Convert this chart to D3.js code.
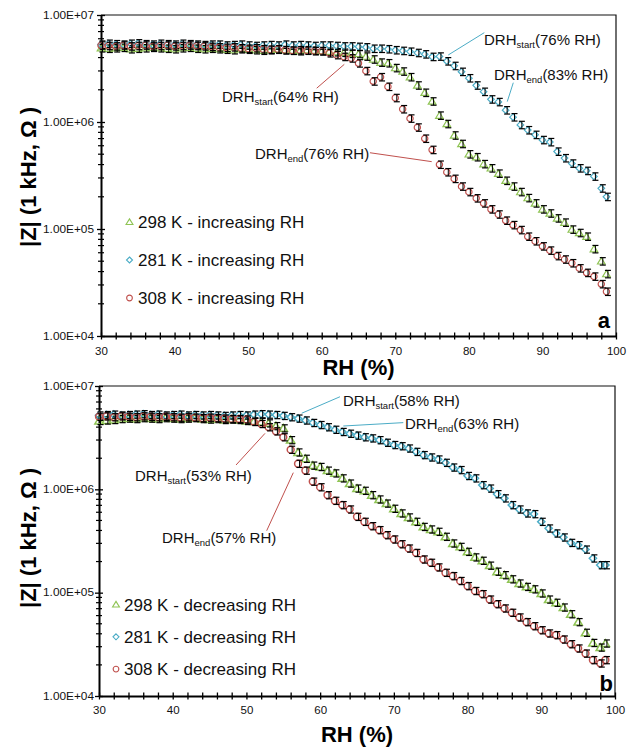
<!DOCTYPE html>
<html><head><meta charset="utf-8">
<script src="https://cdn.jsdelivr.net/npm/d3@7"></script>
<style>body{margin:0;background:#fff} svg{display:block}</style>
</head><body><svg id="c" width="633" height="747"></svg>
<script>
// ---------- DATA ----------
const rh = [30,31,32,33,34,35,36,37,38,39,40,41,42,43,44,45,46,47,48,49,50,51,52,53,54,55,56,57,58,59,60,
  61,62,63,64,65,66,67,68,69,70,71,72,73,74,75,76,77,78,79,80,81,82,83,84,85,86,87,88,89,90,
  91,92,93,94,95,96,97,98,98.7];

// |Z| in MΩ, increasing RH (panel a)
const inc298 = [4.9,4.85,4.9,4.95,4.8,4.85,4.9,4.95,4.9,4.85,4.8,4.9,4.95,4.85,4.8,4.85,
  4.8,4.75,4.7,4.8,4.75,4.7,4.65,4.7,4.75,4.7,4.65,4.6,4.7,4.65,4.6,
  4.55,4.5,4.45,4.35,4.33,4.1,3.85,3.6,3.55,3.2,
  2.97,2.63,2.2,1.88,1.56,1.15,0.96,0.75,0.625,0.50,
  0.47,0.405,0.37,0.33,0.283,0.25,0.222,0.195,0.174,0.153,
  0.140,0.126,0.115,0.099,0.092,0.085,0.065,0.050,0.038];
const inc281 = [5.3,5.4,5.35,5.3,5.4,5.45,5.35,5.3,5.4,5.35,5.3,5.4,5.35,5.3,5.25,5.3,
  5.3,5.2,5.25,5.3,5.2,5.15,5.2,5.25,5.2,5.3,5.2,5.25,5.2,5.15,5.2,
  5.2,5.15,5.1,5.1,5.05,5.0,4.85,4.85,4.8,4.7,
  4.63,4.55,4.43,4.3,4.07,4.1,3.7,3.35,2.95,2.57,
  2.2,1.92,1.63,1.54,1.29,1.11,0.94,0.84,0.76,0.68,
  0.65,0.53,0.46,0.41,0.37,0.35,0.31,0.24,0.20];
const inc308 = [5.2,5.15,5.1,5.2,5.1,5.15,5.2,5.1,5.15,5.2,5.1,5.15,5.2,5.15,5.1,5.05,
  5.0,4.95,5.0,4.9,4.85,4.9,4.8,4.75,4.8,4.7,4.65,4.7,4.65,4.6,4.6,
  4.4,4.23,4.07,3.94,3.54,3.0,2.4,2.63,2.14,1.68,
  1.32,1.08,0.89,0.70,0.55,0.40,0.34,0.295,0.25,0.222,
  0.194,0.174,0.153,0.137,0.120,0.109,0.098,0.085,0.077,0.069,
  0.063,0.056,0.052,0.048,0.043,0.039,0.036,0.0306,0.026];

// |Z| in MΩ, decreasing RH (panel b)
const dec298 = [4.6,4.65,4.7,4.8,4.85,4.8,4.9,4.85,4.8,4.9,4.85,4.8,4.85,4.9,4.8,4.75,
  4.8,4.7,4.75,4.7,4.6,4.55,4.5,
  4.36,4.1,3.9,3.0,2.28,1.98,1.70,1.65,
  1.52,1.43,1.28,1.14,1.02,0.97,0.88,0.80,0.73,0.65,
  0.586,0.536,0.486,0.434,0.41,0.389,0.348,0.30,0.278,0.249,
  0.220,0.204,0.183,0.160,0.148,0.135,0.123,0.114,0.108,0.0985,
  0.086,0.080,0.072,0.062,0.052,0.041,0.0327,0.0295,0.0323];
const dec281 = [5.2,5.25,5.3,5.2,5.25,5.3,5.35,5.25,5.3,5.2,5.25,5.3,5.2,5.25,5.2,5.25,
  5.2,5.15,5.2,5.25,5.2,5.3,5.35,5.3,
  5.25,5.15,5.0,4.85,4.65,4.4,4.2,
  4.0,3.78,3.6,3.46,3.32,3.2,3.12,3.0,2.83,2.69,
  2.62,2.49,2.31,2.15,2.04,1.95,1.81,1.63,1.54,1.35,
  1.28,1.10,1.02,0.90,0.82,0.705,0.64,0.586,0.577,0.486,
  0.419,0.375,0.343,0.304,0.289,0.262,0.215,0.185,0.185];
const dec308 = [5.05,5.1,5.0,5.1,5.05,5.0,5.1,5.05,5.0,5.05,5.0,4.95,5.0,4.95,4.9,4.95,
  4.9,4.85,4.8,4.8,4.75,4.5,
  4.3,4.0,3.65,3.2,2.42,1.77,1.52,1.19,1.05,
  0.88,0.776,0.705,0.64,0.543,0.486,0.441,0.404,0.361,0.328,
  0.295,0.268,0.243,0.21,0.195,0.176,0.156,0.145,0.130,0.116,
  0.104,0.097,0.086,0.0776,0.0705,0.064,0.0577,0.052,0.0475,0.0434,
  0.0404,0.0389,0.0353,0.0318,0.0289,0.0258,0.0223,0.0207,0.0223];

const relErr = 0.08; // relative error of each point

const xTickValues = [30,40,50,60,70,80,90,100];
const yTickValues = [1e4,1e5,1e6,1e7];
const yTickLabels = ['1.00E+04','1.00E+05','1.00E+06','1.00E+07'];

const legendA = ['298 K - increasing RH','281 K - increasing RH','308 K - increasing RH'];
const legendB = ['298 K - decreasing RH','281 K - decreasing RH','308 K - decreasing RH'];

// annotations: text anchor (rh, Z) and leader line from (rh1,Z1) to (rh2,Z2)
const annA = [
  {sub:'start', val:'(76% RH)', s:1, tx:82.06, tz:5.25e6, x1:82.10, z1:6.84e6, x2:77.20, z2:4.23e6},
  {sub:'end',   val:'(83% RH)', s:1, tx:83.42, tz:2.47e6, x1:86.04, z1:2.33e6, x2:85.22, z2:1.55e6},
  {sub:'start', val:'(64% RH)', s:2, tx:46.45, tz:1.54e6, x1:59.32, z1:2.07e6, x2:63.07, z2:3.46e6},
  {sub:'end',   val:'(76% RH)', s:2, tx:50.93, tz:4.51e5, x1:66.56, z1:5.16e5, x2:74.95, z2:4.26e5}
];
const annB = [
  {sub:'start', val:'(58% RH)', s:1, tx:63.10, tz:6.40e6, x1:62.69, z1:7.87e6, x2:57.50, z2:5.45e6},
  {sub:'end',   val:'(63% RH)', s:1, tx:71.51, tz:3.84e6, x1:71.28, z1:4.42e6, x2:63.14, z2:4.10e6},
  {sub:'start', val:'(53% RH)', s:2, tx:34.88, tz:1.205e6, x1:48.59, z1:1.72e6, x2:52.52, z2:3.48e6},
  {sub:'end',   val:'(57% RH)', s:2, tx:38.55, tz:3.03e5, x1:52.75, z1:3.98e5, x2:56.36, z2:1.45e6}
];

// ---------- STYLE ----------
const FONT = '"Liberation Sans", Arial, Helvetica, sans-serif';
const COLORS = ['#8fc454', '#4bacc6', '#c0504d']; // 298 K, 281 K, 308 K
const SHAPES = ['tri', 'dia', 'circ'];
const svg = d3.select('#c');

function shapePath(shape, s) {
  if (shape === 'tri') return `M0,${-s*1.05}L${s*1.15},${s*0.85}L${-s*1.15},${s*0.85}Z`;
  if (shape === 'dia') return `M0,${-s}L${s},0L0,${s}L${-s},0Z`;
  return d3.arc()({innerRadius:0, outerRadius:s*0.95, startAngle:0, endAngle:2*Math.PI});
}

function drawPanel(cfg) {
  const x = d3.scaleLinear().domain([30,100]).range([cfg.x0, cfg.x1]);
  const y = d3.scaleLog().domain([1e4,1e7]).range([cfg.y1, cfg.y0]);
  const g = svg.append('g');

  // frame (top/right)
  g.append('path').attr('d', `M${cfg.x0},${cfg.y0}H${cfg.x1}V${cfg.y1}`)
    .attr('fill','none').attr('stroke','#111').attr('stroke-width',1.2);

  // y minor ticks
  const minor = [];
  for (let k = 4; k < 7; k++) for (let m = 2; m <= 9; m++) minor.push(m * Math.pow(10, k));
  g.append('g').selectAll('line').data(minor).join('line')
    .attr('x1', cfg.x0 - 3).attr('x2', cfg.x0 + 3)
    .attr('y1', d => y(d)).attr('y2', d => y(d))
    .attr('stroke','#000').attr('stroke-width',1.2);

  // y axis
  const yAx = g.append('g').attr('transform', `translate(${cfg.x0},0)`)
    .call(d3.axisLeft(y).tickValues(yTickValues).tickFormat((d,i) => yTickLabels[i]).tickSizeOuter(0));
  yAx.select('.domain').attr('stroke-width', 2);
  yAx.selectAll('.tick line').attr('x1', -4).attr('x2', 4).attr('stroke-width', 1.3);
  yAx.selectAll('.tick text').attr('x', -(cfg.x0 - 94)).attr('font-family', FONT)
    .attr('font-size', 10).attr('fill','#111')
    .attr('textLength', 51).attr('lengthAdjust','spacingAndGlyphs');

  // x axis
  const xAll = [];
  for (let v = 30; v <= 100; v += 2) xAll.push(v);
  const xAx = g.append('g').attr('transform', `translate(0,${cfg.y1})`)
    .call(d3.axisBottom(x).tickValues(xAll)
      .tickFormat(d => xTickValues.includes(d) ? String(d) : '').tickSizeOuter(0));
  xAx.select('.domain').attr('stroke-width', 2);
  xAx.selectAll('.tick line').attr('y1', -3.5).attr('y2', 3.5).attr('stroke-width', 1.3);
  xAx.selectAll('.tick text').attr('y', cfg.xLabY - cfg.y1).attr('dy', 0)
    .attr('font-family', FONT).attr('font-size', 11.5).attr('fill','#111');
  xAx.selectAll('.domain').raise();

  // axis titles
  g.append('text').attr('x', (cfg.x0 + cfg.x1) / 2).attr('y', cfg.xTitleY)
    .attr('text-anchor','middle').attr('font-family', FONT).attr('font-weight','bold')
    .attr('font-size', 22).attr('fill','#000').text('RH (%)');
  g.append('text').attr('transform', `translate(36,${cfg.yTitleC}) rotate(-90)`)
    .attr('text-anchor','middle').attr('font-family', FONT).attr('font-weight','bold')
    .attr('font-size', 22).attr('fill','#000').text('|Z| (1 kHz, \u03A9 )');

  // series
  cfg.series.forEach((vals, si) => {
    const pts = rh.map((r, i) => ({r, z: vals[i] * 1e6}));
    const sg = g.append('g');
    sg.selectAll('path.m').data(pts).join('path').attr('class','m')
      .attr('transform', d => `translate(${x(d.r)},${y(d.z)})`)
      .attr('d', shapePath(SHAPES[si], cfg.ms))
      .attr('fill','none').attr('stroke', COLORS[si]).attr('stroke-width', cfg.sw);
    // error bars
    const eb = sg.selectAll('g.eb').data(pts).join('g').attr('class','eb');
    const ex = d => x(d.r) + 1.5;
    eb.append('line').attr('x1', ex).attr('x2', ex)
      .attr('y1', d => y(d.z * (1 + relErr))).attr('y2', d => y(d.z * (1 - relErr)))
      .attr('stroke','#000').attr('stroke-width',1);
    eb.append('line').attr('x1', d => ex(d) - 3).attr('x2', d => ex(d) + 3)
      .attr('y1', d => y(d.z * (1 + relErr))).attr('y2', d => y(d.z * (1 + relErr)))
      .attr('stroke','#000').attr('stroke-width',1.2);
    eb.append('line').attr('x1', d => ex(d) - 3).attr('x2', d => ex(d) + 3)
      .attr('y1', d => y(d.z * (1 - relErr))).attr('y2', d => y(d.z * (1 - relErr)))
      .attr('stroke','#000').attr('stroke-width',1.2);
  });

  // annotations
  cfg.ann.forEach(a => {
    g.append('line').attr('x1', x(a.x1)).attr('y1', y(a.z1)).attr('x2', x(a.x2)).attr('y2', y(a.z2))
      .attr('stroke', COLORS[a.s]).attr('stroke-width', 1);
    const t = g.append('text').attr('x', x(a.tx)).attr('y', y(a.tz))
      .attr('font-family', FONT).attr('font-size', 15).attr('fill','#111');
    t.append('tspan').text('DRH');
    t.append('tspan').attr('font-size', 9.5).attr('dy', 3).text(a.sub);
    t.append('tspan').attr('dy', -3).text(a.val);
  });

  // legend
  cfg.legend.forEach((lab, i) => {
    const ly = cfg.legY0 + i * cfg.legDy;
    g.append('path').attr('transform', `translate(${cfg.legMx},${ly - 6})`)
      .attr('d', shapePath(SHAPES[i], 3))
      .attr('fill','none').attr('stroke', COLORS[i]).attr('stroke-width', 1.1);
    g.append('text').attr('x', cfg.legTx).attr('y', ly)
      .attr('font-family', FONT).attr('font-size', 17).attr('fill','#111').text(lab);
  });

  // panel letter
  g.append('text').attr('x', cfg.letX).attr('y', cfg.letY).attr('text-anchor','end')
    .attr('font-family', FONT).attr('font-weight','bold').attr('font-size', 22)
    .attr('fill','#000').text(cfg.letter);
}

drawPanel({x0:101, x1:616, y0:15, y1:336, xLabY:355, xTitleY:375, yTitleC:177,
  series:[inc298, inc281, inc308], ann: annA, legend: legendA,
  legY0:228, legDy:38, legMx:129.5, legTx:138, letter:'a', letX:610, letY:328, ms:3.3, sw:1.2});
drawPanel({x0:99, x1:615, y0:386, y1:696, xLabY:714, xTitleY:742, yTitleC:538,
  series:[dec298, dec281, dec308], ann: annB, legend: legendB,
  legY0:610.5, legDy:32.3, legMx:116, legTx:124, letter:'b', letX:613, letY:691, ms:3.6, sw:1.5});
</script>
</body></html>
